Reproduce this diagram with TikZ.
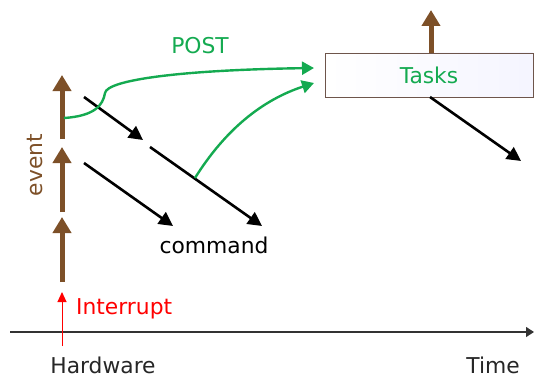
\documentclass[tikz,border=0pt]{standalone}
\usepackage{fontspec}
\setmainfont{DejaVu Sans}
\usetikzlibrary{arrows.meta}
\definecolor{evbrown}{RGB}{125,80,40}
\definecolor{postgreen}{RGB}{20,170,80}
\definecolor{boxedge}{RGB}{110,85,75}
\tikzset{
  lbl/.style={font=\fontsize{21.8}{26}\selectfont, inner sep=0pt},
  evarrow/.style={draw=evbrown, line width=5pt, -{Triangle[length=16pt,width=18pt]}},
  cmdarrow/.style={draw=black, line width=2.6pt, -{Triangle[length=14pt,width=14pt]}},
  postarrow/.style={draw=postgreen, line width=2.4pt, -{Triangle[length=12pt,width=13pt]}},
  irqarrow/.style={draw=red, line width=1pt, -{Triangle[length=10pt,width=9pt]}},
  axisarrow/.style={draw=black!80, line width=1.2pt, -{Triangle[length=8pt,width=10pt]}},
  taskbox/.style={draw=boxedge, line width=0.8pt, left color=white, right color=blue!4!white,
    minimum width=208pt, minimum height=44pt, inner sep=0pt}
}
\begin{document}
\begin{tikzpicture}[x=1pt,y=-1pt]
\useasboundingbox (0,0) rectangle (534,377);
% time axis
\coordinate (ax0) at (10,332);
\coordinate (ax1) at (534,332);
\draw[axisarrow] (ax0) -- (ax1);
\node[lbl, text=black!85] (hw) at (103,365) {Hardware};
\node[lbl, text=black!85] (time) at (493,365) {Time};
% interrupt
\coordinate (irq0) at (62,346);
\coordinate (irq1) at (62,292);
\draw[irqarrow] (irq0) -- (irq1);
\node[lbl, text=red, anchor=west] (irqt) at (76,309) {Interrupt};
% event arrows
\coordinate (e1a) at (62,282); \coordinate (e1b) at (62,217);
\coordinate (e2a) at (62,212); \coordinate (e2b) at (62,147);
\coordinate (e3a) at (62,139); \coordinate (e3b) at (62,75);
\draw[evarrow] (e1a) -- (e1b);
\draw[evarrow] (e2a) -- (e2b);
\draw[evarrow] (e3a) -- (e3b);
\node[lbl, text=evbrown, rotate=90] (event) at (35,165) {event};
% tasks box
\node[taskbox] (tasks) at (429,75) {};
\node[lbl, text=postgreen] (taskst) at (tasks.center) {Tasks};
\coordinate (tup) at (431,10);
\draw[evarrow] (tasks.north -| tup) -- (tup);
% command arrows
\coordinate (ca0) at (84,97);  \coordinate (ca1) at (143,140);
\coordinate (cb0) at (150,147); \coordinate (cb1) at (262,226);
\coordinate (cc0) at (84,163); \coordinate (cc1) at (173,226);
\coordinate (cd0) at (430,97); \coordinate (cd1) at (521,161);
\draw[cmdarrow] (ca0) -- (ca1);
\draw[cmdarrow] (cb0) -- (cb1);
\draw[cmdarrow] (cc0) -- (cc1);
\draw[cmdarrow] (cd0) -- (cd1);
\node[lbl, text=black] (cmd) at (214,245) {command};
% post arrows
\coordinate (p1s) at (64,118);
\coordinate (p1e) at (314,68);
\coordinate (p2s) at (195,178);
\coordinate (p2e) at (314,83);
\draw[postarrow] (p1s) .. controls (95,116) and (103,105) .. (105,93) .. controls (107,80) and (180,70) .. (p1e);
\draw[postarrow] (p2s) .. controls (225,130) and (262,100) .. (p2e);
\node[lbl, text=postgreen] (post) at (200,46) {POST};
\end{tikzpicture}
\end{document}
